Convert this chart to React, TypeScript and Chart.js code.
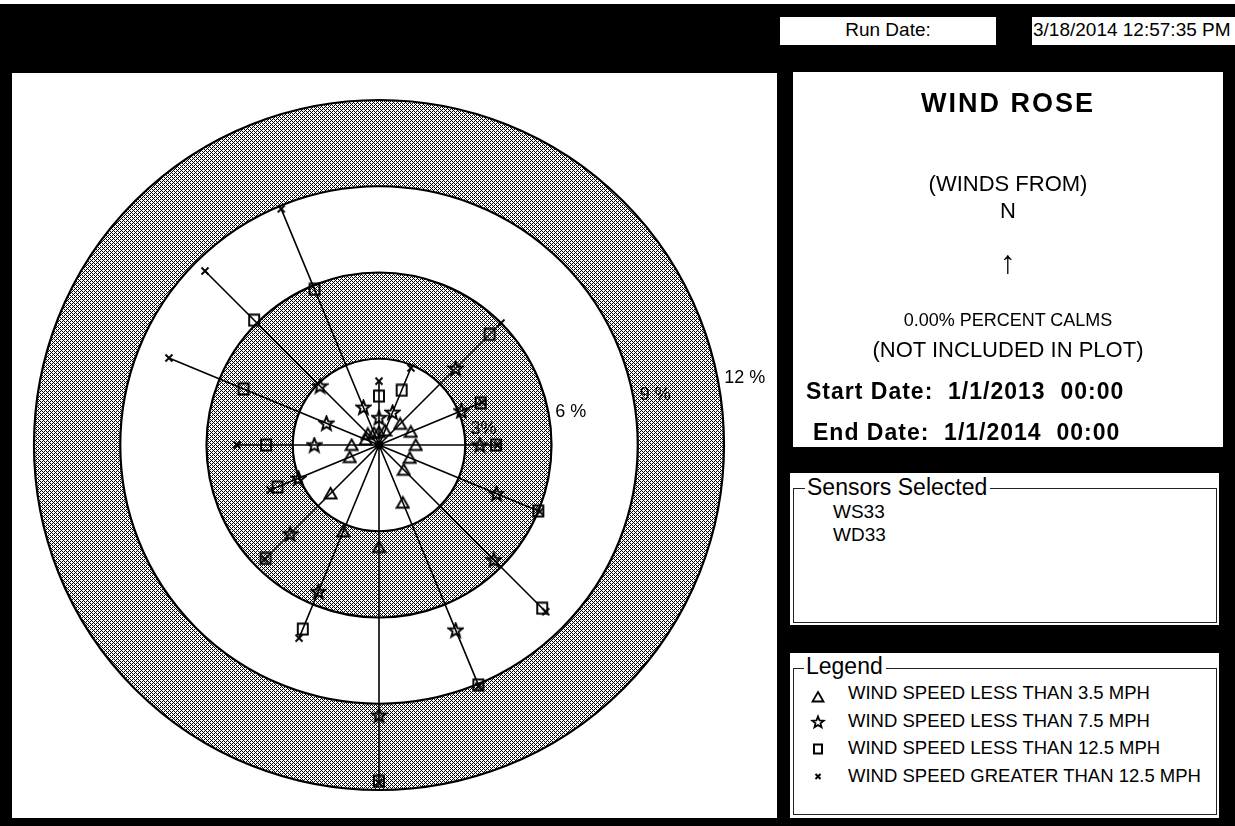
import React, { useEffect, useRef } from "react";
import { Chart, registerables } from "chart.js";

Chart.register(...registerables);

// ---- data (cumulative percent of time, winds FROM each direction) ----
const directions = ["N", "NNE", "NE", "ENE", "E", "ESE", "SE", "SSE", "S", "SSW", "SW", "WSW", "W", "WNW", "NW", "NNW"];
const lessThan3_5 = [0.45, 0.55, 1.04, 1.2, 1.28, 1.16, 1.22, 2.17, 3.55, 3.25, 2.38, 1.1, 0.95, 0.5, 0.55, 0.45];
const lessThan7_5 = [0.95, 1.23, 3.77, 3.1, 3.51, 4.42, 5.65, 6.97, 9.4, 5.52, 4.37, 3.03, 2.25, 1.98, 2.9, 1.42];
const lessThan12_5 = [1.7, 2.06, 5.44, 3.83, 4.07, 6.0, 8.03, 9.03, 11.7, 6.93, 5.58, 3.82, 3.93, 5.1, 6.14, 5.86];
const greaterThan12_5 = [2.22, 2.9, 6.0, 3.88, 4.12, 6.05, 8.2, 9.08, 11.75, 7.27, 5.62, 4.1, 4.94, 7.91, 8.56, 8.89];
const ringTicks = [3, 6, 9, 12];
const ringTickLabels = ["3%", "6 %", "9 %", "12 %"];
const shadedBands = [[3, 6], [9, 12]];
const legendLabels = [
  "WIND SPEED LESS THAN 3.5 MPH",
  "WIND SPEED LESS THAN 7.5 MPH",
  "WIND SPEED LESS THAN 12.5 MPH",
  "WIND SPEED GREATER THAN 12.5 MPH",
];
const markerKinds = ["tri", "star", "sq", "x"];
const sensors = ["WS33", "WD33"];

const FONT = "'Liberation Sans', Arial, sans-serif";

function starPoints(cx: number, cy: number, R: number, r: number) {
  const pts: [number, number][] = [];
  for (let i = 0; i < 10; i++) {
    const a = -Math.PI / 2 + (i * Math.PI) / 5;
    const rr = i % 2 === 0 ? R : r;
    pts.push([cx + rr * Math.cos(a), cy + rr * Math.sin(a)]);
  }
  return pts;
}

function makeMarker(kind: string): HTMLCanvasElement {
  const c = document.createElement("canvas");
  const size = kind === "star" ? 17 : kind === "x" ? 10 : kind === "tri" ? 15 : 14;
  c.width = size;
  c.height = size;
  const g = c.getContext("2d")!;
  g.strokeStyle = "#000";
  g.lineWidth = 1.9;
  g.lineJoin = "miter";
  g.beginPath();
  if (kind === "tri") {
    g.moveTo(7.5, 2);
    g.lineTo(13.5, 12.5);
    g.lineTo(1.5, 12.5);
    g.closePath();
  } else if (kind === "star") {
    starPoints(8.5, 9, 7.3, 3.1).forEach(([x, y], i) => (i === 0 ? g.moveTo(x, y) : g.lineTo(x, y)));
    g.closePath();
  } else if (kind === "sq") {
    g.rect(2, 1.5, 10, 11);
  } else {
    g.moveTo(1.5, 1.5);
    g.lineTo(8.5, 8.5);
    g.moveTo(8.5, 1.5);
    g.lineTo(1.5, 8.5);
  }
  g.stroke();
  return c;
}

function stippleTile(): HTMLCanvasElement {
  const c = document.createElement("canvas");
  c.width = 4;
  c.height = 4;
  const g = c.getContext("2d")!;
  g.fillStyle = "#fff";
  g.fillRect(0, 0, 4, 4);
  g.fillStyle = "#000";
  [[0, 0], [2, 0], [1, 1], [0, 2], [2, 2], [3, 3]].forEach(([x, y]) => g.fillRect(x, y, 1, 1));
  return c;
}

const bandsPlugin = {
  id: "bands",
  beforeDraw(chart: any) {
    const sc = chart.scales.r;
    const ctx = chart.ctx;
    const pat = ctx.createPattern(stippleTile(), "repeat");
    ctx.save();
    shadedBands.forEach(([a, b]) => {
      ctx.beginPath();
      ctx.arc(sc.xCenter, sc.yCenter, sc.getDistanceFromCenterForValue(b), 0, Math.PI * 2);
      ctx.moveTo(sc.xCenter + sc.getDistanceFromCenterForValue(a), sc.yCenter);
      ctx.arc(sc.xCenter, sc.yCenter, sc.getDistanceFromCenterForValue(a), 0, Math.PI * 2, true);
      ctx.fillStyle = pat;
      ctx.fill("evenodd");
    });
    ctx.restore();
  },
};

const spokesPlugin = {
  id: "spokes",
  beforeDatasetsDraw(chart: any) {
    const sc = chart.scales.r;
    const ctx = chart.ctx;
    ctx.save();
    ctx.strokeStyle = "#000";
    ctx.lineWidth = 1.6;
    ctx.beginPath();
    directions.forEach((_, i) => {
      const end = Math.max(lessThan3_5[i], lessThan7_5[i], lessThan12_5[i], greaterThan12_5[i]);
      const p = sc.getPointPositionForValue(i, end);
      ctx.moveTo(sc.xCenter, sc.yCenter);
      ctx.lineTo(p.x, p.y);
    });
    ctx.stroke();
    ctx.restore();
  },
};

const ringLabelPlugin = {
  id: "ringLabels",
  afterDraw(chart: any) {
    const sc = chart.scales.r;
    const ctx = chart.ctx;
    ctx.save();
    ctx.font = `18px ${FONT}`;
    ctx.textAlign = "left";
    ctx.textBaseline = "middle";
    ctx.fillStyle = "#000";
    const a = (11.3 * Math.PI) / 180;
    ringTicks.forEach((v, i) => {
      const r = sc.getDistanceFromCenterForValue(v);
      const x = sc.xCenter + r * Math.cos(a) + 7;
      const y = sc.yCenter - r * Math.sin(a) + 1;
      ctx.fillText(ringTickLabels[i], x, y);
    });
    ctx.restore();
  },
};

function T(props: any) {
  const { x, y, size, bold, center, ls, children } = props;
  return (
    <div
      style={{
        position: "absolute",
        left: center ? x - 300 : x,
        width: center ? 600 : undefined,
        top: y - size,
        height: size * 2,
        lineHeight: `${size * 2}px`,
        fontSize: size,
        fontWeight: bold ? 700 : 400,
        textAlign: center ? "center" : "left",
        whiteSpace: "pre",
        letterSpacing: ls || 0,
      }}
    >
      {children}
    </div>
  );
}

function Box(props: any) {
  const { x, y, w, h } = props;
  return <div style={{ position: "absolute", left: x, top: y, width: w, height: h, background: "#fff" }} />;
}

function Group(props: any) {
  const { x, y, w, h, label, labelX, labelY } = props;
  return (
    <>
      <div style={{ position: "absolute", left: x, top: y, width: w - 2, height: h - 2, border: "1px solid #222" }} />
      <div
        style={{
          position: "absolute",
          left: labelX - 2,
          top: labelY - 12,
          height: 24,
          lineHeight: "24px",
          fontSize: 23,
          background: "#fff",
          padding: "0 3px 0 2px",
          whiteSpace: "pre",
        }}
      >
        {label}
      </div>
    </>
  );
}

function Sym(props: any) {
  const { kind, x, y } = props;
  return (
    <svg style={{ position: "absolute", left: x - 8, top: y - 8 }} width={16} height={16} viewBox="0 0 16 16">
      {kind === "tri" && <polygon points="8,3 13.5,12.5 2.5,12.5" fill="none" stroke="#000" strokeWidth={1.8} />}
      {kind === "star" && (
        <polygon
          points={starPoints(8, 8.5, 6, 2.6).map((p) => p.join(",")).join(" ")}
          fill="none"
          stroke="#000"
          strokeWidth={1.8}
        />
      )}
      {kind === "sq" && <rect x={4} y={3.5} width={8} height={9} fill="none" stroke="#000" strokeWidth={2} />}
      {kind === "x" && <path d="M5.5,6 L10.5,11 M10.5,6 L5.5,11" stroke="#000" strokeWidth={2} />}
    </svg>
  );
}

export default function App() {
  const ref = useRef<HTMLCanvasElement>(null);

  useEffect(() => {
    const series = [lessThan3_5, lessThan7_5, lessThan12_5, greaterThan12_5];
    const chart = new Chart(ref.current!, {
      type: "radar",
      data: {
        labels: directions,
        datasets: series.map((d, k) => ({
          label: legendLabels[k],
          data: d,
          pointStyle: makeMarker(markerKinds[k]) as any,
          pointRadius: 5,
          showLine: false,
          borderWidth: 0,
          borderColor: "#000",
          backgroundColor: "transparent",
          fill: false,
        })),
      },
      options: {
        responsive: false,
        animation: false,
        layout: { padding: { left: 22, right: 53, top: 27, bottom: 28 } },
        plugins: { legend: { display: false }, tooltip: { enabled: false } },
        scales: {
          r: {
            min: 0,
            max: 12,
            startAngle: 0,
            ticks: { display: false, stepSize: 3 },
            grid: { circular: true, color: "#000", lineWidth: 2.2 },
            angleLines: { display: false },
            pointLabels: { display: false },
          },
        },
      } as any,
      plugins: [bandsPlugin, spokesPlugin, ringLabelPlugin],
    });
    return () => chart.destroy();
  }, []);

  const rowY = [692, 720, 747, 775];
  const symY = [697, 722, 749, 776];

  return (
    <div
      style={{
        position: "absolute",
        left: 0,
        top: 0,
        width: 1235,
        height: 826,
        background: "#000",
        overflow: "hidden",
        fontFamily: FONT,
        color: "#000",
      }}
    >
      <div style={{ position: "absolute", left: 0, top: 0, width: 1235, height: 4, background: "#fff" }} />
      <div style={{ position: "absolute", left: 12, top: 73, width: 765, height: 745, background: "#fff" }}>
        <canvas ref={ref} width={765} height={745} style={{ display: "block" }} />
      </div>

      <Box x={780} y={17} w={216} h={28} />
      <Box x={1032} y={17} w={203} h={28} />
      <T x={888} y={30} size={19} center>Run Date:</T>
      <T x={1033} y={30} size={19}>3/18/2014 12:57:35 PM</T>

      <Box x={793} y={72} w={430} h={375} />
      <T x={1008} y={103} size={27} bold center ls={2}>WIND ROSE</T>
      <T x={1008} y={184} size={22} center>(WINDS FROM)</T>
      <T x={1008} y={211} size={22} center>N</T>
      <T x={1008} y={262} size={32} center>↑</T>
      <T x={1008} y={320} size={18} center>0.00% PERCENT CALMS</T>
      <T x={1008} y={350} size={22} center>(NOT INCLUDED IN PLOT)</T>
      <T x={806} y={391} size={23} bold ls={1}>{"Start Date:  1/1/2013  00:00"}</T>
      <T x={813} y={432} size={23} bold ls={1}>{"End Date:  1/1/2014  00:00"}</T>

      <Box x={790} y={473} w={429} h={152} />
      <Group x={793} y={488} w={424} h={135} label="Sensors Selected" labelX={807} labelY={487} />
      {sensors.map((s, i) => (
        <T key={s} x={833} y={512 + i * 22.5} size={19}>{s}</T>
      ))}

      <Box x={790} y={653} w={429} h={165} />
      <Group x={793} y={668} w={424} h={147} label="Legend" labelX={806} labelY={666} />
      {legendLabels.map((l, i) => (
        <React.Fragment key={l}>
          <Sym kind={markerKinds[i]} x={818} y={symY[i]} />
          <T x={848} y={rowY[i]} size={18.5}>{l}</T>
        </React.Fragment>
      ))}
    </div>
  );
}
